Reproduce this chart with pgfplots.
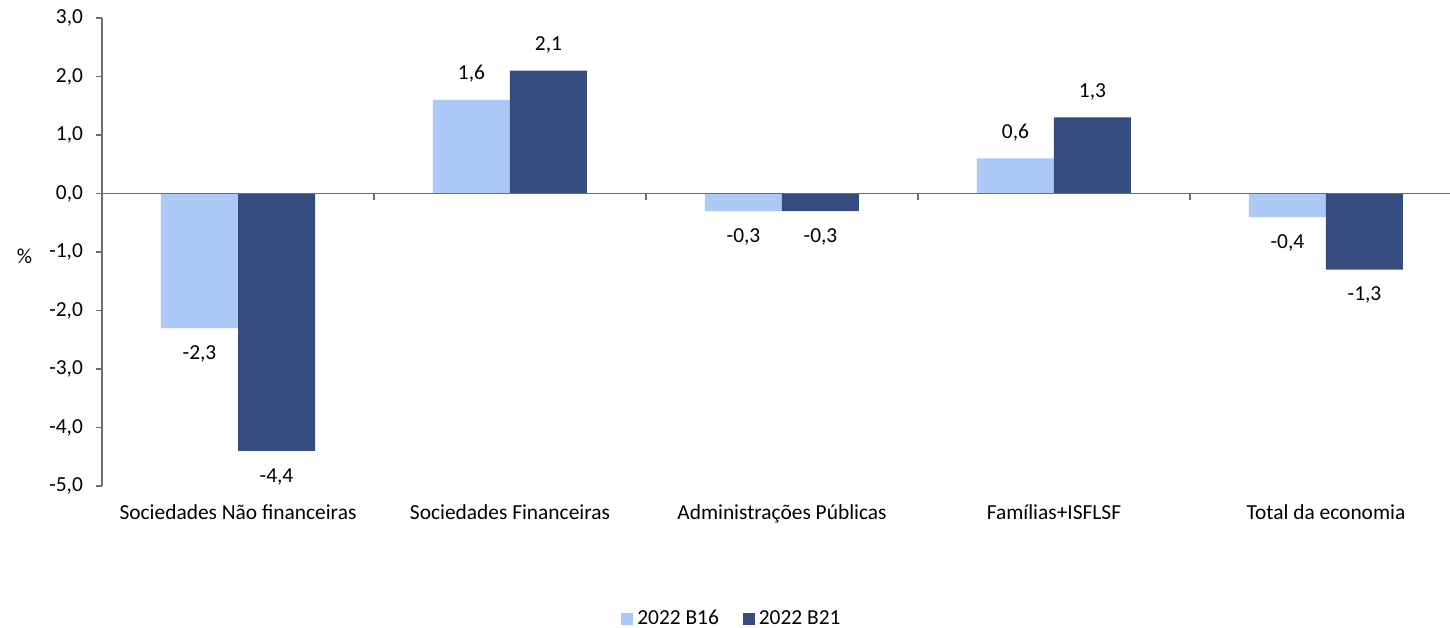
\documentclass[border=0pt]{standalone}
\usepackage{pgfplots}
\pgfplotsset{compat=1.18}
\usepackage{fontspec}
\setmainfont{Carlito}
\definecolor{lightbar}{RGB}{171,201,246}
\definecolor{darkbar}{RGB}{54,75,126}
\definecolor{axisgray}{RGB}{110,110,110}
\newcommand{\lblfont}{\fontsize{10.7}{12.5}\selectfont}
\begin{document}
\begin{tikzpicture}
\useasboundingbox (0pt,0pt) rectangle (725pt,313.5pt);
\begin{axis}[
  at={(51pt,70.5pt)}, anchor=south west,
  scale only axis, width=674pt, height=234pt,
  ybar=0pt, bar width=38.5pt,
  xmin=-0.5, xmax=4.456, ymin=-5, ymax=3,
  enlargelimits=false, clip=false,
  axis y line*=left, axis x line*=bottom,
  x axis line style={draw=none},
  y axis line style={axisgray, line width=0.7pt},
  xtick={0,1,2,3,4},
  xticklabels={Sociedades Não financeiras, Sociedades Financeiras, Administrações Públicas, Famílias+ISFLSF, Total da economia},
  x tick style={draw=none},
  xticklabel style={font=\lblfont, yshift=-3pt},
  ytick={-5,-4,...,3},
  y tick style={axisgray, line width=0.7pt},
  tick align=outside, major tick length=3pt,
  ytick pos=left,
  yticklabel style={font=\lblfont, xshift=-3pt,
    /pgf/number format/.cd, fixed, fixed zerofill, precision=1, use comma, assume math mode=true},
  ylabel={\%},
  ylabel style={rotate=-90, at={(axis description cs:-0.0575,0.491)}, anchor=center, font=\lblfont},
  nodes near coords,
  nodes near coords align={vertical},
  every node near coord/.append style={font=\lblfont, inner sep=8.5pt,
    /pgf/number format/.cd, fixed, fixed zerofill, precision=1, use comma, assume math mode=true},
  legend style={draw=none, at={(axis description cs:0.468,-0.284)}, anchor=center,
    font=\lblfont, legend columns=2,
    /tikz/every even column/.append style={column sep=10pt}},
  legend image code/.code={\fill[#1] (0pt,-3pt) rectangle (6pt,3pt);},
]
\addplot[fill=lightbar, draw=none] coordinates {(0,-2.3) (1,1.6) (2,-0.3) (3,0.6) (4,-0.4)};
\addplot[fill=darkbar, draw=none] coordinates {(0,-4.4) (1,2.1) (2,-0.3) (3,1.3) (4,-1.3)};
\legend{2022 B16, 2022 B21}
% zero line and category separators
\draw[axisgray, line width=0.7pt] (axis cs:-0.5,0) -- (axis cs:4.456,0);
\pgfplotsinvokeforeach{0.5,1.5,2.5,3.5}{
  \draw[axisgray, line width=0.7pt] (axis cs:#1,0) -- ++(0pt,-3pt);
}
\end{axis}
\end{tikzpicture}
\end{document}
